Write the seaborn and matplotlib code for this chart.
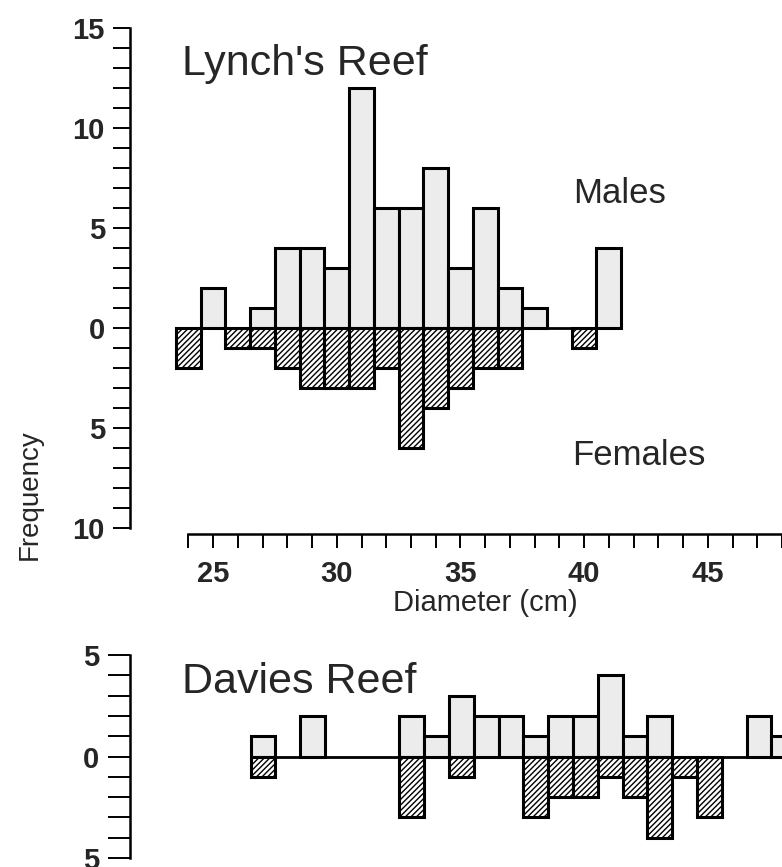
import numpy as np
import pandas as pd
import matplotlib
matplotlib.use("Agg")
import matplotlib.pyplot as plt
import seaborn as sns

# ---- data ----
diameters = list(range(24, 49))  # cm, 1-cm classes
lynch_males   = [0, 2, 0, 1, 4, 4, 3, 12, 6, 6, 8, 3, 6, 2, 1, 0, 0, 4, 0, 0, 0, 0, 0, 0, 0]
lynch_females = [2, 0, 1, 1, 2, 3, 3, 3, 2, 6, 4, 3, 2, 2, 0, 0, 1, 0, 0, 0, 0, 0, 0, 0, 0]
davies_males   = [0, 0, 0, 1, 0, 2, 0, 0, 0, 2, 1, 3, 2, 2, 1, 2, 2, 4, 1, 2, 0, 0, 0, 2, 1]
davies_females = [0, 0, 0, 1, 0, 0, 0, 0, 0, 3, 0, 1, 0, 0, 3, 2, 2, 1, 2, 4, 1, 3, 0, 0, 0]

x_major = [25, 30, 35, 40, 45]
top_y_major = [-10, -5, 0, 5, 10, 15]
bot_y_major = [-5, 0, 5]

sns.set_theme(style="white")
plt.rcParams["font.family"] = ["Liberation Sans", "DejaVu Sans"]
plt.rcParams["hatch.linewidth"] = 1.0
plt.rcParams["hatch.color"] = "black"

W, H = 782, 867
fig = plt.figure(figsize=(W / 100, H / 100), dpi=100)
fig.patch.set_facecolor("white")


def rect(l, t, r, b):
    return [l / W, 1 - b / H, (r - l) / W, (b - t) / H]


ax1 = fig.add_axes(rect(130, 28, 782, 534))
ax2 = fig.add_axes(rect(130, 655, 782, 858))

XL = (21.64, 47.93)
EDGE_LW = 2.2
MALE_FILL = "#ececec"


def draw_panel(ax, males, females):
    df = pd.DataFrame({"d": diameters, "m": males, "f": [-v for v in females]})
    dm = df[df["m"] != 0]
    dfm = df[df["f"] != 0]
    sns.barplot(data=dm, x="d", y="m", native_scale=True, width=1.0,
                color=MALE_FILL, saturation=1, edgecolor="black",
                linewidth=EDGE_LW, errorbar=None, ax=ax)
    n_m = len(ax.patches)
    sns.barplot(data=dfm, x="d", y="f", native_scale=True, width=1.0,
                color="white", saturation=1, edgecolor="black",
                linewidth=EDGE_LW, errorbar=None, ax=ax)
    for p in ax.patches[n_m:]:
        p.set_hatch("//////")
        p.set_facecolor("white")
    for p in ax.patches[:n_m]:
        p.set_facecolor(MALE_FILL)
    nz = [d for d, a, b in zip(diameters, males, females) if a or b]
    ax.hlines(0, nz[0] - 0.5, nz[-1] + 0.5, color="black", lw=2.0, zorder=5)
    ax.set_xlim(*XL)
    ax.set_xlabel("")
    ax.set_ylabel("")
    for s in ["top", "right"]:
        ax.spines[s].set_visible(False)
    ax.spines["left"].set_color("black")
    ax.spines["left"].set_linewidth(1.8)
    ax.set_facecolor("white")


draw_panel(ax1, lynch_males, lynch_females)
draw_panel(ax2, davies_males, davies_females)

# top panel axes
ax1.set_ylim(-10.3, 15)
ax1.spines["left"].set_bounds(-10, 15)
ax1.set_yticks(top_y_major)
ax1.set_yticklabels([str(abs(v)) for v in top_y_major])
ax1.set_yticks(list(range(-10, 16)), minor=True)
ax1.tick_params(axis="y", which="both", direction="out", length=12, width=1.4,
                color="black", pad=6, labelsize=21, left=True)
ax1.spines["bottom"].set_visible(True)
ax1.spines["bottom"].set_color("black")
ax1.spines["bottom"].set_linewidth(1.8)
ax1.spines["bottom"].set_bounds(24, 48)
ax1.set_xticks(x_major)
ax1.set_xticklabels([str(v) for v in x_major])
ax1.set_xticks(list(range(24, 49)), minor=True)
ax1.tick_params(axis="x", which="both", direction="out", length=10, width=1.4,
                color="black", pad=9, labelsize=21, bottom=True)
for lab in ax1.get_xticklabels() + ax1.get_yticklabels():
    lab.set_fontweight("bold")

# bottom panel axes
ax2.set_ylim(-5, 5)
ax2.spines["bottom"].set_visible(False)
ax2.set_yticks(bot_y_major)
ax2.set_yticklabels([str(abs(v)) for v in bot_y_major])
ax2.set_yticks(list(range(-5, 6)), minor=True)
ax2.tick_params(axis="y", which="both", direction="out", length=16, width=1.4,
                color="black", pad=6, labelsize=21, left=True)
ax2.set_xticks([])
ax2.set_xticks([], minor=True)
for lab in ax2.get_yticklabels():
    lab.set_fontweight("bold")


def ftext(x, y, s, **kw):
    fig.text(x / W, 1 - y / H, s, **kw)


ftext(182, 75, "Lynch's Reef", fontsize=31, ha="left", va="baseline")
ftext(182, 693, "Davies Reef", fontsize=31, ha="left", va="baseline")
ftext(573, 203, "Males", fontsize=25, ha="left", va="baseline")
ftext(572, 465, "Females", fontsize=25, ha="left", va="baseline")
ftext(485, 603, "Diameter (cm)", fontsize=21, ha="center", va="center")
ftext(30, 495, "Frequency", fontsize=20, ha="center", va="center", rotation=90)

fig.savefig("out.png", dpi=100, facecolor="white")
